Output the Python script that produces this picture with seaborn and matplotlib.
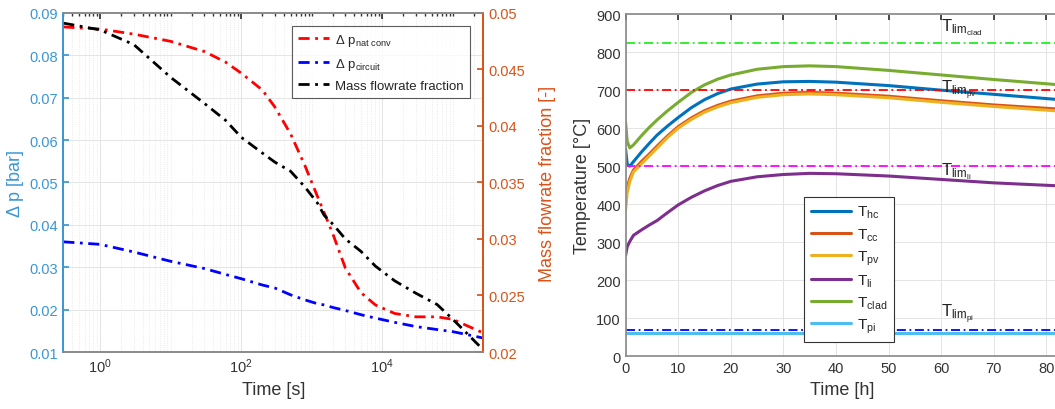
import pandas as pd
import matplotlib
matplotlib.use('Agg')
import matplotlib.pyplot as plt
import matplotlib.ticker as mticker
import seaborn as sns

# ---- left panel data (time in s) ----
time_s = [0.3, 1, 3, 10, 30, 60, 100, 200, 300, 500, 800, 1200, 1500, 2000,
          3000, 5000, 8000, 15000, 30000, 60000, 100000, 150000, 270000]
dp_nat_conv = [0.0867, 0.0862, 0.0850, 0.0833, 0.0809, 0.0784, 0.0758, 0.0718,
               0.0678, 0.0615, 0.0540, 0.0468, 0.0429, 0.0378, 0.0298, 0.0240,
               0.0211, 0.0191, 0.0183, 0.0183, 0.0177, 0.0164, 0.0145]
dp_circuit = [0.0360, 0.0354, 0.0336, 0.0314, 0.0297, 0.0283, 0.0273, 0.0258,
              0.0251, 0.0235, 0.0223, 0.0214, 0.0211, 0.0205, 0.0198, 0.0188,
              0.0180, 0.0170, 0.0160, 0.0153, 0.0148, 0.0142, 0.0133]
mass_frac = [0.0491, 0.0485, 0.0472, 0.0443, 0.0420, 0.0405, 0.0390, 0.0376,
             0.0368, 0.0360, 0.0346, 0.0332, 0.0321, 0.0313, 0.0300, 0.0289,
             0.0276, 0.0263, 0.0252, 0.0242, 0.0229, 0.0218, 0.0202]

# ---- right panel data (time in h) ----
time_h = [0, 0.3, 0.8, 1.5, 3, 4.5, 6, 8, 10, 12.5, 15, 17.5, 20, 25, 30, 35, 40, 50, 60, 70, 82.5]
T_hc = [545, 505, 500, 512, 537, 560, 582, 606, 628, 654, 675, 691, 703, 716, 722, 723, 721, 712, 700, 689, 675]
T_cc = [410, 445, 468, 490, 512, 532, 553, 580, 604, 627, 646, 660, 671, 685, 692, 694, 692, 684, 672, 661, 650]
T_pv = [385, 430, 460, 485, 506, 527, 548, 576, 600, 623, 642, 656, 667, 681, 688, 690, 688, 680, 668, 657, 645]
T_li = [265, 288, 302, 318, 332, 345, 357, 378, 398, 418, 435, 449, 460, 472, 478, 481, 480, 474, 465, 456, 448]
T_clad = [615, 565, 548, 556, 580, 602, 622, 646, 668, 694, 714, 729, 740, 755, 762, 764, 762, 752, 740, 728, 714]
T_pi = [60] * len(time_h)

lim_names = ['clad', 'pv', 'li', 'pi']
lim_values = [825, 700, 500, 70]
lim_colors = ['#22ee22', '#ff0000', '#ff00ff', '#0000ff']
lim_text_y = [866, 702, 488, 112]

left_df = pd.DataFrame({'t': time_s, 'nat': dp_nat_conv, 'circ': dp_circuit, 'frac': mass_frac})
right_df = pd.DataFrame({'t': time_h, 'hc': T_hc, 'cc': T_cc, 'pv': T_pv,
                         'li': T_li, 'clad': T_clad, 'pi': T_pi})

sns.set_theme(style='white')
plt.rcParams['font.family'] = ['Liberation Sans', 'DejaVu Sans']
plt.rcParams['mathtext.default'] = 'regular'
plt.rcParams['mathtext.fontset'] = 'custom'
plt.rcParams['mathtext.rm'] = 'Liberation Sans'
plt.rcParams['mathtext.it'] = 'Liberation Sans'

blue_ax = '#3a96d6'
orange_ax = '#d95319'
grey = '#333333'
spine_grey = '#8c8c8c'
grid_c = '#e4e4e4'
dashdot = (0, (4, 2, 1, 2))

fig = plt.figure(figsize=(10.55, 4.10), dpi=100)

# ================= left panel =================
ax = fig.add_axes([0.060, 0.139, 0.398, 0.827])
ax2 = ax.twinx()
sns.lineplot(data=left_df, x='t', y='nat', ax=ax, color='#ff0000', lw=2,
             linestyle=dashdot, label='Δ p$_{nat\\ conv}$', legend=False)
sns.lineplot(data=left_df, x='t', y='circ', ax=ax, color='#0000ff', lw=2,
             linestyle=dashdot, label='Δ p$_{circuit}$', legend=False)
sns.lineplot(data=left_df, x='t', y='frac', ax=ax2, color='black', lw=2,
             linestyle=dashdot, label='Mass flowrate fraction', legend=False)

ax.set_xscale('log')
ax.set_xlim(0.3, 2.7e5)
ax.set_ylim(0.01, 0.09)
ax2.set_ylim(0.02, 0.05)
ax.xaxis.set_major_locator(mticker.LogLocator(base=100, numticks=10))
ax.xaxis.set_minor_locator(mticker.LogLocator(base=10, subs=range(1, 10), numticks=20))
ax.xaxis.set_minor_formatter(mticker.NullFormatter())
ax.set_yticks([0.01, 0.02, 0.03, 0.04, 0.05, 0.06, 0.07, 0.08, 0.09])
ax2.set_yticks([0.02, 0.025, 0.03, 0.035, 0.04, 0.045, 0.05])
ax.yaxis.set_major_formatter(mticker.FuncFormatter(lambda v, p: f'{v:g}'))
ax2.yaxis.set_major_formatter(mticker.FuncFormatter(lambda v, p: f'{v:g}'))

ax.grid(True, which='major', color=grid_c, lw=0.7)
ax.grid(True, which='minor', axis='x', color=grid_c, lw=0.6, linestyle=':')
ax.set_axisbelow(True)

ax.tick_params(axis='x', which='both', direction='in', top=True, colors=grey, labelsize=10.5)
ax.tick_params(axis='x', which='major', length=4)
ax.tick_params(axis='x', which='minor', length=2)
ax.tick_params(axis='y', direction='in', colors=blue_ax, labelsize=10.5, length=4)
ax2.tick_params(axis='y', direction='in', colors=orange_ax, labelsize=10.5, length=4)

for s in ['top', 'bottom']:
    ax.spines[s].set_color(spine_grey)
    ax2.spines[s].set_color(spine_grey)
ax.spines['left'].set_color(blue_ax)
ax2.spines['left'].set_color(blue_ax)
ax.spines['right'].set_color(orange_ax)
ax2.spines['right'].set_color(orange_ax)

ax.set_xlabel('Time [s]', fontsize=13, color=grey)
ax.set_ylabel('Δ p [bar]', fontsize=13, color=blue_ax, labelpad=4)
ax2.set_ylabel('Mass flowrate fraction [-]', fontsize=13, color=orange_ax, labelpad=10)

handles = ax.get_lines()[:2] + ax2.get_lines()[:1]
leg = ax2.legend(handles, [h.get_label() for h in handles], loc='upper right',
                 bbox_to_anchor=(0.968, 0.962), borderaxespad=0, fontsize=9.5,
                 frameon=True, fancybox=False, edgecolor='#333333',
                 handlelength=2.3, borderpad=0.45, labelspacing=0.6,
                 handletextpad=0.5)
leg.get_frame().set_linewidth(0.8)

# ================= right panel =================
bx = fig.add_axes([0.593, 0.129, 0.4114, 0.834])
series = [('hc', '#0072bd'), ('cc', '#d95319'), ('pv', '#edb120'),
          ('li', '#7e2f8e'), ('clad', '#77ac30'), ('pi', '#4dbeee')]
for key, col in series:
    sns.lineplot(data=right_df, x='t', y=key, ax=bx, color=col, lw=2.2,
                 label='T$_{' + key + '}$', legend=False)
for name, val, col, ty in zip(lim_names, lim_values, lim_colors, lim_text_y):
    bx.axhline(val, color=col, lw=1.3, linestyle=(0, (5, 2, 1, 2)))
    bx.text(60, ty, 'T$_{lim_{' + name + '}}$', fontsize=12, color='#222222',
            ha='left', va='center')

bx.set_xlim(0, 82.5)
bx.set_ylim(0, 900)
bx.set_xticks(range(0, 90, 10))
bx.set_yticks(range(0, 1000, 100))
bx.grid(True, color=grid_c, lw=0.7)
bx.set_axisbelow(True)
bx.tick_params(direction='in', top=True, colors=grey, labelsize=10.5, length=4)
for s in bx.spines.values():
    s.set_color(spine_grey)
bx.spines['right'].set_visible(False)
bx.set_xlabel('Time [h]', fontsize=13, color=grey)
bx.set_ylabel('Temperature [°C]', fontsize=13, color=grey)

bh = bx.get_lines()[:6]
leg2 = bx.legend(bh, [h.get_label() for h in bh], loc='lower left',
                 bbox_to_anchor=(0.411, 0.041), borderaxespad=0, fontsize=11,
                 frameon=True, fancybox=False, edgecolor='#333333', framealpha=1,
                 handlelength=2.6, labelspacing=0.38, borderpad=0.45,
                 handletextpad=0.4)
leg2.get_frame().set_linewidth(0.8)

fig.savefig('out.png', dpi=100)
